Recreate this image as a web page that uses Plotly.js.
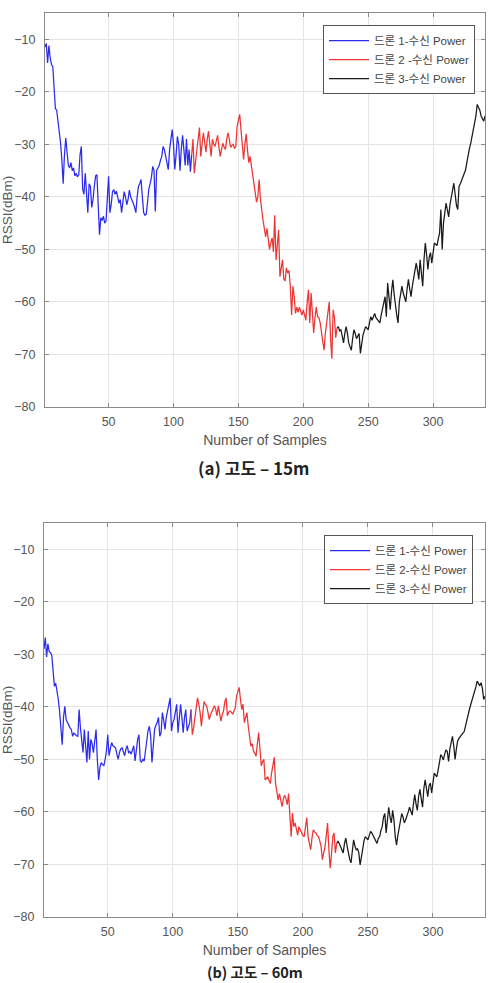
<!DOCTYPE html>
<html>
<head>
<meta charset="utf-8">
<script src="https://cdn.plot.ly/plotly-3.0.1.min.js"></script>
<style>html,body{margin:0;padding:0;background:#fff;}#chart{width:494px;height:983px;}</style>
</head>
<body>
<div id="chart"></div>
<script>
// ---- Data (RSSI in dBm per sample) ----
// (a) altitude 15 m
const topBlueStart = 1;
const topBlue = [-11.5,-10.8,-14.5,-11.2,-13.5,-14.8,-15.2,-19,-23.2,-23.5,
-25.5,-27.5,-29.8,-33,-37.5,-32,-28.8,-31.5,-34,-34.5,
-33.5,-35,-34.5,-36,-35.5,-36.2,-35.8,-32,-30.4,-38.5,
-39.5,-35.5,-40,-43,-37.5,-38,-42,-40.5,-38,-36,
-35.8,-41,-47.2,-44,-44.5,-43.7,-45,-44.6,-40,-36.1,
-43,-41.5,-39,-38.6,-39.5,-38.9,-40,-41.2,-40.5,-43,
-41,-39,-40,-41.5,-40.5,-38.7,-40,-40.5,-41.2,-42,
-43,-40,-38,-37.5,-36.7,-40,-43,-43.5,-43.3,-41,
-38.5,-37.5,-36.3,-34.2,-35,-42.8,-35,-34.5,-34,-33,
-32.3,-30.4,-31,-32.3,-33.5,-34.8,-31,-29,-27.2,-30,
-34.8,-32,-28.5,-30,-35,-31,-28.3,-31,-34,-29,
-34,-31,-35.2,-32];
const topRedStart = 114;
const topRed = [-32,-29,-35.5,-33,-30.5,-28,-26.8,-32.3,-30,-27.8,
-29.5,-31.5,-29,-27.5,-30,-32.3,-29,-30,-30.4,-29.5,
-28.3,-30.5,-32.3,-31,-29.8,-30.5,-31,-29,-27.8,-29,
-30.6,-30.2,-30,-30.8,-30.4,-26.6,-25.5,-24.3,-27.2,-30,
-32.9,-30,-28,-31,-33.5,-32.3,-34,-35.5,-38,-39.5,
-41,-40,-36.7,-40.5,-43,-44.5,-46,-47.6,-46,-48.5,
-50,-48.7,-47.8,-50.5,-43.5,-52,-49.3,-46.3,-55.2,-53,
-52,-55.7,-56,-53.5,-54.5,-54,-57,-62.5,-57,-59,
-62.2,-61,-62,-61,-61.8,-62.5,-61.5,-62.8,-63.5,-60,
-57.7,-64,-58.3,-62,-65.9,-63,-61,-62.8,-63,-64,
-66,-67.8,-69.2,-66,-64,-62,-60,-66.8,-70.8,-61.5,
-63,-66.8,-65];
const topBlackStart = 226;
const topBlack = [-65,-64.7,-65.5,-65.3,-66.5,-67.8,-66,-64.7,-66,-67.8,
-68.5,-69.2,-67,-65.3,-66,-67,-66.5,-66,-69.8,-68,
-66.3,-65.5,-64.7,-65,-65.3,-64,-62.8,-63.5,-62.8,-62.2,
-63,-63.4,-63.8,-64,-62.5,-61.5,-60,-59,-62.8,-56.4,
-59,-61.5,-58,-55.8,-58.5,-61,-62.5,-64,-60,-58.5,
-57,-58.3,-59,-60,-57.5,-55.7,-57.5,-59,-57,-55.7,
-54,-52.6,-54,-55.7,-52,-54.5,-57,-52,-48.8,-51,
-53.8,-51.5,-50.6,-52.6,-50.5,-48.8,-49,-49.3,-48,-46.9,
-42.4,-50,-45,-42.5,-41.2,-42.5,-43.8,-41.5,-39.9,-38.5,
-37.4,-39.5,-41.6,-42.4,-38,-37.5,-36.8,-36.2,-35.5,-34.9,
-33.5,-31.7,-30.8,-29.8,-28.5,-27.3,-26,-24.6,-22.4,-23,
-23.5,-24.6,-25,-25.6,-24.6];

// (b) altitude 60 m
const botBlueStart = 1;
const botBlue = [-29,-26.8,-30.5,-28,-29.5,-29.7,-30.2,-33,-36.1,-35.5,
-37,-38.6,-40.9,-43.5,-47.2,-42,-39.9,-42.4,-43,-43.7,
-44,-44.3,-45.6,-45,-45.3,-45.5,-45.6,-40.5,-44,-46.8,
-48.7,-44.3,-47,-50.6,-44.6,-50,-46.2,-47,-48.7,-46,
-44.3,-50,-53.9,-51.5,-50.6,-51,-51.2,-50,-48.4,-45.3,
-49.3,-48,-46.8,-47.4,-47.6,-47.8,-49,-50,-48.7,-48,
-47.8,-48.5,-49.3,-48,-47.4,-48.7,-48.5,-49,-48,-47.4,
-50.3,-47.5,-46.2,-45.3,-50.3,-50.5,-50,-50.3,-48,-45.6,
-44.5,-43.7,-45.6,-50.6,-47,-44.3,-43.5,-43,-42,-45.6,
-44.9,-41.1,-42.5,-44.3,-42,-40.5,-39,-38.3,-44.6,-43,
-42.4,-40.5,-39.5,-44.9,-42,-39.5,-42,-44.9,-42,-40.5,
-44.6,-43.5,-43,-40.5];
const botRedStart = 114;
const botRed = [-40.5,-45.3,-44,-42.4,-40,-38.3,-39.5,-41.1,-43.7,-41,
-39,-39.5,-39.8,-41,-42.4,-41.5,-40.8,-40.2,-39.8,-40.5,
-41.7,-39.8,-41,-42.7,-41.5,-40.8,-39,-38.3,-41.7,-41,
-40.8,-41,-41.4,-40.8,-40.2,-38,-37,-36.3,-38.5,-40.5,
-39.5,-43,-42,-41.1,-43.7,-45.5,-47.5,-47,-48.4,-48.8,
-49.4,-47,-44.9,-48,-51.2,-50.5,-50,-53.9,-53.5,-53.3,
-54,-54.6,-52.5,-51.2,-49.6,-54.6,-56,-57.7,-56.5,-57.5,
-59,-57.5,-56.8,-57.5,-58.6,-56.5,-60,-64.7,-60.2,-62.8,
-62.1,-63,-64.4,-62.8,-63.4,-64,-64.5,-64.7,-63,-61.1,
-64.7,-66,-67.2,-65,-63.4,-63.8,-64,-64.5,-64.7,-65.5,
-66.6,-69.1,-68,-66.6,-64.5,-62.1,-67.2,-70.7,-68,-64.7,
-64,-67.8,-66];
const botBlackStart = 226;
const botBlack = [-66,-65.6,-66,-66.6,-67.2,-67.8,-66,-65,-66.5,-68.1,
-69,-69.7,-67,-65.3,-66.5,-67.2,-67,-67.8,-70.1,-68.5,
-66.6,-65.5,-64.7,-65,-65.3,-64.5,-63.7,-64,-64.5,-65,
-65.5,-66,-65,-64.7,-63.5,-62.8,-61,-60.3,-64,-61.5,
-59.1,-61,-62.1,-59.7,-61.5,-64.7,-66.3,-64.5,-62.8,-61.5,
-60.3,-61,-62.1,-61.5,-60.9,-60,-59.1,-60,-60.6,-58.5,
-56.7,-58.5,-59.7,-57,-55.7,-57.5,-59.1,-55.5,-53.9,-55.5,
-57.1,-55,-54.5,-56.4,-54.5,-52.6,-53,-53.3,-52,-50.7,
-49.1,-49.5,-50.1,-49,-48.2,-48.5,-50.4,-48,-46.5,-45.6,
-47.5,-50,-48,-46.5,-46,-45.6,-45.2,-45,-44.7,-43.5,
-42.5,-41.8,-40.5,-39.6,-38.8,-37.8,-37.3,-36.2,-35.1,-35.5,
-36,-35.4,-36.5,-38.6,-38];

const namesTop = ['드론 1-수신 Power', '드론 2 -수신 Power', '드론 3-수신 Power'];
const namesBot = ['드론 1-수신 Power', '드론 2-수신 Power', '드론 3-수신 Power'];
const xTickVals = [50, 100, 150, 200, 250, 300];
const yTickVals = [-80, -70, -60, -50, -40, -30, -20, -10];
const captionTop = '(a) 고도 – 15m';
const captionBot = '(b) 고도 – 60m';
const xLabel = 'Number of Samples';
const yLabel = 'RSSI(dBm)';

// ---- Build ----
function idx(start, arr) { return arr.map((_, i) => start + i); }
const colors = ['#2b2bee', '#ee3535', '#1a1a1a'];

function tr(start, arr, name, color, xa, ya, lg) {
  return { type: 'scatter', mode: 'lines', x: idx(start, arr), y: arr, name: name,
    line: { color: color, width: 1.25 }, xaxis: xa, yaxis: ya, legend: lg, hoverinfo: 'skip' };
}

const data = [
  tr(topBlueStart, topBlue, namesTop[0], colors[0], 'x', 'y', 'legend'),
  tr(topRedStart, topRed, namesTop[1], colors[1], 'x', 'y', 'legend'),
  tr(topBlackStart, topBlack, namesTop[2], colors[2], 'x', 'y', 'legend'),
  tr(botBlueStart, botBlue, namesBot[0], colors[0], 'x2', 'y2', 'legend2'),
  tr(botRedStart, botRed, namesBot[1], colors[1], 'x2', 'y2', 'legend2'),
  tr(botBlackStart, botBlack, namesBot[2], colors[2], 'x2', 'y2', 'legend2')
];

const latin = 'Liberation Sans, Arial, sans-serif';
const tickFont = { family: latin, size: 12.5, color: '#555' };
function xax(anchor, domain) {
  return { anchor: anchor, domain: domain, range: [1, 340], tickvals: xTickVals,
    showline: true, linecolor: '#8a8a8a', linewidth: 1, mirror: 'ticks',
    ticks: 'inside', ticklen: 4, tickcolor: '#8a8a8a', showgrid: true, gridcolor: '#e4e4e4',
    zeroline: false, tickfont: tickFont, ticklabelstandoff: 3,
    title: { text: xLabel, font: { family: latin, size: 14, color: '#555' }, standoff: 7 } };
}
function yax(anchor, domain) {
  return { anchor: anchor, domain: domain, range: [-80, -5], tickvals: yTickVals,
    showline: true, linecolor: '#8a8a8a', linewidth: 1, mirror: 'ticks',
    ticks: 'inside', ticklen: 4, tickcolor: '#8a8a8a', showgrid: true, gridcolor: '#e4e4e4',
    zeroline: false, tickfont: tickFont, ticklabelstandoff: 6,
    title: { text: yLabel, font: { family: latin, size: 13.5, color: '#555' }, standoff: 2 } };
}
const legStyle = (x, y) => ({ x: x, y: y, xanchor: 'right', yanchor: 'top', xref: 'paper', yref: 'paper',
  bgcolor: '#fff', bordercolor: '#555', borderwidth: 1,
  font: { family: 'Liberation Sans, Noto Sans CJK KR, sans-serif', size: 11.5, color: '#444' },
  tracegroupgap: 0, itemwidth: 40 });

const layout = {
  width: 494, height: 983, autosize: false,
  margin: { l: 0, r: 0, t: 0, b: 0 },
  paper_bgcolor: '#fff', plot_bgcolor: '#fff',
  xaxis: xax('y', [45/494, 485/494]),
  yaxis: yax('x', [1 - 407/983, 1 - 13/983]),
  xaxis2: xax('y2', [44/494, 485/494]),
  yaxis2: yax('x2', [1 - 917/983, 1 - 523/983]),
  showlegend: true,
  legend: legStyle(475/494, 1 - 25/983),
  legend2: legStyle(473/494, 1 - 535/983),
  annotations: [
    { text: '<b>' + captionTop + '</b>', xref: 'paper', yref: 'paper', x: 254/494, y: 1 - 467/983,
      xanchor: 'center', yanchor: 'middle', showarrow: false,
      font: { family: 'Noto Sans CJK KR, sans-serif', size: 17, color: '#222' } },
    { text: '<b>' + captionBot + '</b>', xref: 'paper', yref: 'paper', x: 255/494, y: 0,
      xanchor: 'center', yanchor: 'bottom', showarrow: false, borderpad: 0,
      font: { family: 'Noto Sans CJK KR, sans-serif', size: 14.5, color: '#222' } }
  ]
};

Plotly.newPlot('chart', data, layout, { displayModeBar: false, staticPlot: true });
</script>
</body>
</html>
